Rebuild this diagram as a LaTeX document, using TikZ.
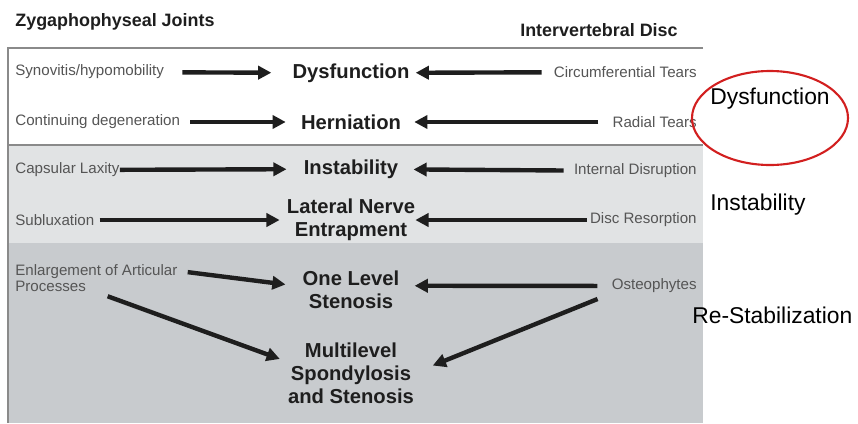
\documentclass[tikz,border=0pt]{standalone}
\usepackage{fontspec}
\setmainfont{Liberation Sans}
\usetikzlibrary{arrows.meta}
\definecolor{panelmid}{HTML}{E1E3E4}
\definecolor{panellow}{HTML}{C8CBCE}
\definecolor{framegray}{HTML}{8A8A8A}
\definecolor{ink}{HTML}{1E1E1E}
\definecolor{labelgray}{HTML}{555555}
\definecolor{circlered}{HTML}{D21F1F}

\begin{document}
\begin{tikzpicture}[x=0.02cm, y=-0.02cm,
  side/.style={inner sep=0pt, align=left, font=\fontsize{8.6}{9.4}\selectfont, text=labelgray},
  stage/.style={inner sep=0pt, align=center, font=\fontsize{11.5}{13}\selectfont\bfseries, text=ink},
  title/.style={inner sep=0pt, font=\fontsize{10.2}{12}\selectfont\bfseries, text=ink},
  note/.style={inner sep=0pt, font=\fontsize{13}{15}\selectfont},
  arr/.style={-{Triangle[length=7.5pt,width=7.5pt]}, line width=2.5pt, draw=ink}]
  \useasboundingbox (0,0) rectangle (858,423);
  % panels: white, light gray, darker gray
  \fill[white] (8,48) rectangle (703,145);
  \fill[panelmid] (8,145) rectangle (703,243);
  \fill[panellow] (8,243) rectangle (703,423);
  \draw[framegray, line width=1.1pt] (703,48) -- (8,48) -- (8,423);
  \draw[framegray, line width=1.1pt] (8,145) -- (703,145);
  % column titles
  \node[title, anchor=west] (zyg) at (15,22) {Zygaphophyseal Joints};
  \node[title, anchor=east] (disc) at (678,30) {Intervertebral Disc};
  % row 1
  \node[side, anchor=west] (syn) at (15,72) {Synovitis/hypomobility};
  \node[stage] (dys) at (351,73) {Dysfunction};
  \node[side, anchor=east] (circ) at (697,72) {Circumferential Tears};
  \draw[arr, shorten <=.36cm, shorten >=.42cm] (syn) -- (dys);
  \draw[arr, shorten <=.24cm, shorten >=.12cm] (circ) -- (dys);
  % row 2
  \node[side, anchor=west] (cont) at (15,122) {Continuing degeneration};
  \node[stage] (hern) at (351,122) {Herniation};
  \node[side, anchor=east] (rad) at (697,122) {Radial Tears};
  \draw[arr, shorten <=.2cm, shorten >=.3cm] (cont) -- (hern);
  \draw[arr, shorten <=.28cm, shorten >=.26cm] (rad) -- (hern);
  % row 3
  \node[side, anchor=west] (lax) at (15,170) {Capsular Laxity};
  \node[stage] (inst) at (351,169) {Instability};
  \node[side, anchor=east] (intd) at (697,171) {Internal Disruption};
  \draw[arr, shorten >=.34cm] (lax) -- (inst);
  \draw[arr, shorten <=.2cm, shorten >=.3cm] (intd) -- (inst);
  % row 4
  \node[side, anchor=west] (sub) at (15,220) {Subluxation};
  \node[stage] (lat) at (351,220) {Lateral Nerve\\Entrapment};
  \node[side, anchor=east] (res) at (697,220) {Disc Resorption};
  \draw[arr, shorten <=.1cm, shorten >=.14cm] (sub) -- (lat);
  \draw[arr, shorten <=.06cm] (res) -- (lat);
  % row 5
  \node[side, anchor=west] (enl) at (15,278) {Enlargement of Articular\\Processes};
  \node[stage] (one) at (351,290) {One Level\\Stenosis};
  \node[side, anchor=east] (ost) at (697,286) {Osteophytes};
  \node[stage] (multi) at (351,373) {Multilevel\\Spondylosis\\and Stenosis};
  \draw[arr, shorten <=.2cm, shorten >=.34cm] (enl.5) -- (one.176);
  \draw[arr, shorten <=.28cm, shorten >=.3cm] (ost) -- (one.5);
  \draw[arr, shorten <=.24cm, shorten >=.17cm] (enl.south) -- (multi.170);
  \draw[arr, shorten <=.3cm, shorten >=.4cm] (ost.south west) -- (multi.east);
  % stage notes on the right
  \draw[circlered, line width=1.2pt] (770,118) ellipse [x radius=78, y radius=47];
  \node[note, anchor=west] (ndys) at (710,99) {Dysfunction};
  \node[note, anchor=west] (ninst) at (710,205) {Instability};
  \node[note, anchor=west] (nres) at (692,315) {Re-Stabilization};
\end{tikzpicture}
\end{document}
